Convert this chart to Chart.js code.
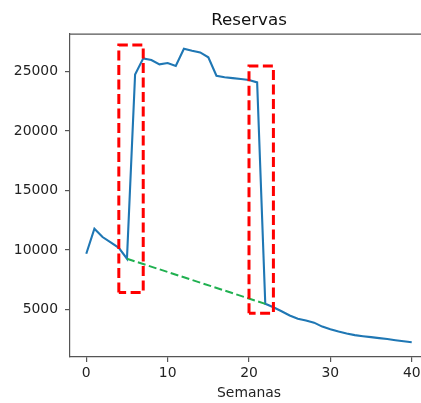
<!DOCTYPE html>
<html>
<head>
<meta charset="utf-8">
<script src="https://cdn.jsdelivr.net/npm/chart.js@4.4.1/dist/chart.umd.min.js"></script>
<style>
  html, body { margin: 0; padding: 0; background: #fff; overflow: hidden; }
  #wrap { width: 498px; height: 403px; }
</style>
</head>
<body>
<div id="wrap"><canvas id="grafico" width="498" height="403"></canvas></div>
<script>
// semanas e reservas
const semanas = [0, 1, 2, 3, 4, 5, 6, 7, 8, 9, 10, 11, 12, 13, 14, 15, 16, 17, 18, 19, 20,
  21, 22, 23, 24, 25, 26, 27, 28, 29, 30, 31, 32, 33, 34, 35, 36, 37, 38, 39, 40];
const reservas = [9690, 11790, 11090, 10640, 10190, 9270, 24750, 26100, 25960, 25600, 25710,
  25460, 26910, 26740, 26600, 26190, 24640, 24520, 24440, 24360, 24280,
  24080, 5480, 5190, 4860, 4500, 4230, 4080, 3900, 3570, 3340,
  3150, 2980, 2850, 2760, 2680, 2600, 2520, 2420, 2330, 2250];

// tendencia (verde tracejada)
const tendenciaX = [5, 22];
const tendenciaY = [9270, 5480];

// caixas vermelhas: [x0, x1, y0, y1]
const caixa1 = [4, 7, 6430, 27220];
const caixa2 = [20, 23, 4690, 25450];

const xTicks = [0, 10, 20, 30, 40];
const yTicks = [5000, 10000, 15000, 20000, 25000];

const fonte = "'DejaVu Sans', sans-serif";

function pontosCaixa(c) {
  return [
    { x: c[0], y: c[2] }, { x: c[0], y: c[3] }, { x: c[1], y: c[3] },
    { x: c[1], y: c[2] }, { x: c[0], y: c[2] }
  ];
}

// linha superior do eixo (como no matplotlib)
const moldura = {
  id: "moldura",
  afterDraw(chart) {
    const a = chart.chartArea;
    const ctx = chart.ctx;
    ctx.save();
    ctx.strokeStyle = "#555";
    ctx.lineWidth = 1.2;
    ctx.beginPath();
    ctx.moveTo(a.left, a.top);
    ctx.lineTo(a.right, a.top);
    ctx.stroke();
    ctx.restore();
  }
};

const ctx = document.getElementById("grafico").getContext("2d");

new Chart(ctx, {
  type: "scatter",
  data: {
    datasets: [
      {
        label: "Reservas",
        data: semanas.map((s, i) => ({ x: s, y: reservas[i] })),
        showLine: true,
        borderColor: "#1f77b4",
        borderWidth: 2.1,
        pointRadius: 0,
        tension: 0,
        order: 3
      },
      {
        label: "Tendencia",
        data: tendenciaX.map((s, i) => ({ x: s, y: tendenciaY[i] })),
        showLine: true,
        borderColor: "#20b050",
        borderWidth: 2,
        borderDash: [8, 3.5],
        pointRadius: 0,
        order: 2
      },
      {
        label: "Caixa 1",
        data: pontosCaixa(caixa1),
        showLine: true,
        borderColor: "#ff0000",
        borderWidth: 3,
        borderDash: [10, 4.5],
        pointRadius: 0,
        order: 1
      },
      {
        label: "Caixa 2",
        data: pontosCaixa(caixa2),
        showLine: true,
        borderColor: "#ff0000",
        borderWidth: 3,
        borderDash: [10, 4.5],
        pointRadius: 0,
        order: 1
      }
    ]
  },
  options: {
    responsive: false,
    animation: false,
    devicePixelRatio: 1,
    layout: { padding: 0 },
    plugins: {
      legend: { display: false },
      tooltip: { enabled: false },
      title: {
        display: true,
        text: "Reservas",
        color: "#111",
        font: { family: fonte, size: 16.7, weight: "normal", lineHeight: 1.2 },
        padding: { top: 11, bottom: 3 }
      }
    },
    scales: {
      x: {
        type: "linear",
        min: -2,
        max: 42,
        afterBuildTicks: (s) => { s.ticks = xTicks.map((v) => ({ value: v })); },
        afterFit: (s) => { s.height = 46; },
        grid: { drawOnChartArea: false, tickLength: 5, color: "#555", lineWidth: 1.2 },
        border: { color: "#555", width: 1.2 },
        ticks: { color: "#222", padding: 3, font: { family: fonte, size: 13.9 }, maxRotation: 0 },
        title: {
          display: true,
          text: "Semanas",
          color: "#222",
          font: { family: fonte, size: 13.9 },
          padding: { top: 0, bottom: 1 }
        }
      },
      y: {
        type: "linear",
        position: "left",
        min: 1014,
        max: 28143,
        afterBuildTicks: (s) => { s.ticks = yTicks.map((v) => ({ value: v })); },
        afterFit: (s) => { s.width = 70; },
        grid: { drawOnChartArea: false, tickLength: 5, color: "#555", lineWidth: 1.2 },
        border: { color: "#555", width: 1.2 },
        ticks: {
          color: "#222",
          padding: 7,
          font: { family: fonte, size: 13.9 },
          callback: (v) => String(v)
        }
      },
      direita: {
        type: "linear",
        position: "right",
        display: true,
        afterFit: (s) => { s.width = 70; },
        grid: { display: false },
        border: { display: false },
        ticks: { display: false }
      }
    }
  },
  plugins: [moldura]
});
</script>
</body>
</html>
